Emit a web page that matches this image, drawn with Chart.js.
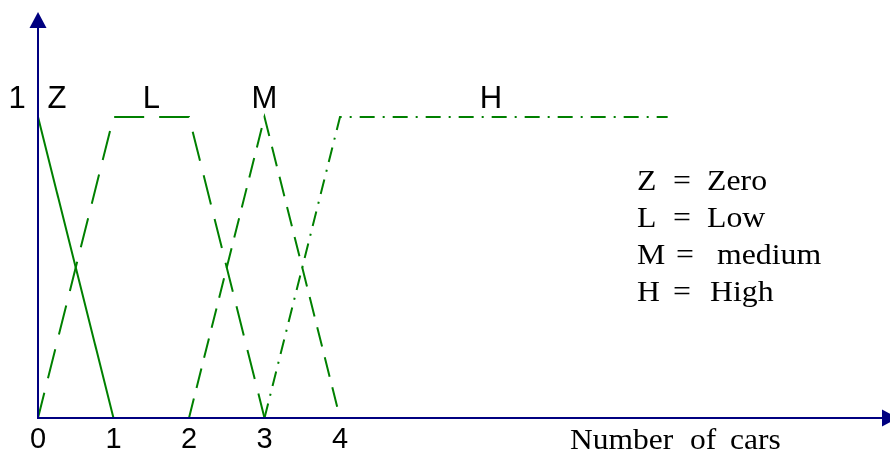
<!DOCTYPE html>
<html>
<head>
<meta charset="utf-8">
<script src="https://cdn.jsdelivr.net/npm/chart.js@4/dist/chart.umd.min.js"></script>
<style>
  html, body { margin: 0; padding: 0; background: #ffffff; }
  canvas { display: block; }
</style>
</head>
<body>
<canvas id="c" width="890" height="454"></canvas>
<script>
// ---- data ----
const xTickValues = [0, 1, 2, 3, 4];
const yTopLabel = '1';
const zeroX = [0, 1];
const zeroY = [1, 0];
const lowX = [0, 1, 2, 3];
const lowY = [0, 1, 1, 0];
const mediumX = [2, 3, 4];
const mediumY = [0, 1, 0];
const highX = [3, 4, 8.34];
const highY = [0, 1, 1];
const setSymbols = ['Z', 'L', 'M', 'H'];
const setNames = ['Zero', 'Low', 'medium', 'High'];
const axisTitleWords = ['Number', 'of', 'cars'];

// ---- layout / style (not data) ----
const symbolAnchorX = [0.25, 1.5, 3, 6];
const legendLayout = { symX: 637, eqX: [673, 673, 676, 673], wordX: [707, 707, 717, 710], baselines: [190, 227, 264, 301] };
const titleLayout = { xs: [570, 690, 730], baseline: 449 };
const GREEN = '#008000';
const NAVY = '#000080';

function pts(xs, ys) { return xs.map((v, i) => ({ x: v, y: ys[i] })); }

function ds(label, xs, ys, dash, offset) {
  return {
    label, data: pts(xs, ys), showLine: true, borderColor: GREEN, borderWidth: 2,
    borderDash: dash, borderDashOffset: offset || 0, pointRadius: 0, tension: 0, fill: false, clip: false
  };
}

const overlay = {
  id: 'overlay',
  afterDatasetsDraw(chart) {
    const { ctx, scales: { x, y }, chartArea } = chart;
    const x0 = x.getPixelForValue(0), y0 = y.getPixelForValue(0);
    ctx.save();
    // axes
    ctx.strokeStyle = NAVY; ctx.fillStyle = NAVY; ctx.lineWidth = 2; ctx.setLineDash([]);
    ctx.beginPath();
    ctx.moveTo(x0, y0); ctx.lineTo(x0, chartArea.top + 14);
    ctx.moveTo(x0 - 1, y0); ctx.lineTo(chartArea.right - 8, y0);
    ctx.stroke();
    ctx.beginPath();
    ctx.moveTo(x0, chartArea.top); ctx.lineTo(x0 - 8.5, chartArea.top + 16); ctx.lineTo(x0 + 8.5, chartArea.top + 16); ctx.closePath();
    ctx.fill();
    ctx.beginPath();
    ctx.moveTo(chartArea.right + 8, y0); ctx.lineTo(chartArea.right - 8, y0 - 8.5); ctx.lineTo(chartArea.right - 8, y0 + 8.5); ctx.closePath();
    ctx.fill();

    // sans labels
    ctx.fillStyle = '#000000';
    ctx.textBaseline = 'alphabetic';
    ctx.textAlign = 'center';
    ctx.font = '29px "Liberation Sans", Arial, sans-serif';
    xTickValues.forEach(v => ctx.fillText(String(v), x.getPixelForValue(v), y0 + 30));
    ctx.font = '31px "Liberation Sans", Arial, sans-serif';
    const y1 = y.getPixelForValue(1);
    ctx.fillText(yTopLabel, x0 - 21, y1 - 9);
    setSymbols.forEach((s, i) => ctx.fillText(s, x.getPixelForValue(symbolAnchorX[i]), y1 - 9));

    // serif legend
    ctx.textAlign = 'left';
    ctx.font = '30px "Liberation Serif", "Times New Roman", serif';
    function stretched(t, px, py, sx) {
      ctx.save(); ctx.translate(px, py); ctx.scale(sx, 1); ctx.fillText(t, 0, 0); ctx.restore();
    }
    setSymbols.forEach((s, i) => {
      const b = legendLayout.baselines[i];
      stretched(s, legendLayout.symX, b, 1.06);
      stretched('=', legendLayout.eqX[i], b, 1.06);
      stretched(setNames[i], legendLayout.wordX[i], b, 1.06);
    });
    axisTitleWords.forEach((w, i) => stretched(w, titleLayout.xs[i], titleLayout.baseline, 1.05));
    ctx.restore();
  }
};

new Chart(document.getElementById('c'), {
  type: 'scatter',
  data: {
    datasets: [
      ds('Z', zeroX, zeroY, []),
      ds('L', lowX, lowY, [30, 15], 4),
      ds('M', mediumX, mediumY, [20, 11]),
      ds('H', highX, highY, [15, 8, 2, 8])
    ]
  },
  options: {
    responsive: false,
    animation: false,
    devicePixelRatio: 1,
    layout: { padding: { left: 38, right: 0, top: 12, bottom: 36 } },
    plugins: { legend: { display: false }, tooltip: { enabled: false }, title: { display: false } },
    scales: {
      x: { type: 'linear', min: 0, max: 852 / 75.5, display: false },
      y: { type: 'linear', min: 0, max: 406 / 301, display: false }
    }
  },
  plugins: [overlay]
});
</script>
</body>
</html>
